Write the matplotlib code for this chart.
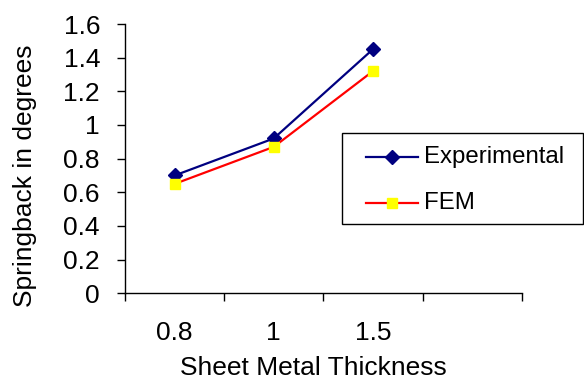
import matplotlib.pyplot as plt
from matplotlib.lines import Line2D
from matplotlib.patches import Rectangle

plt.rcParams["font.family"] = ["Liberation Sans", "DejaVu Sans"]

# Data
thickness = ["0.8", "1", "1.5", ""]
experimental = [0.70, 0.92, 1.45]
fem = [0.65, 0.87, 1.32]
y_ticks = [0, 0.2, 0.4, 0.6, 0.8, 1, 1.2, 1.4, 1.6]
series_names = ["Experimental", "FEM"]

FS = 19
LEG_FS = 17.3
PX = 72 / 100  # points per pixel at dpi=100
W, H = 584, 381

styles = [
    dict(color="#000080", lw=1.6, marker="D", ms=7, mfc="#000080", mec="#000080"),
    dict(color="#FF0000", lw=1.6, marker="s", ms=7, mfc="#FFFF00", mec="#FFFF00"),
]

fig = plt.figure(figsize=(W / 100, H / 100), dpi=100)
ax = fig.add_axes([125 / W, 1 - 293.3 / H, 396.7 / W, 269.3 / H])

x = list(range(len(experimental)))
ax.plot(x, experimental, zorder=3, **styles[0])
ax.plot(x, fem, zorder=3, **styles[1])

ax.set_xlim(-0.5, len(thickness) - 0.5)
ax.set_ylim(0, 1.6)
ax.set_yticks(y_ticks)
ax.set_yticklabels([f"{v:g}" for v in y_ticks])

# category boundaries as tick marks, labels in the middle
ax.set_xticks([i - 0.5 for i in range(len(thickness) + 1)])
ax.set_xticklabels([])
ax.set_xticks(range(len(thickness)), minor=True)
ax.set_xticklabels(thickness, minor=True)
ax.tick_params(axis="x", which="minor", length=0, pad=28 * PX, labelsize=FS)
ax.tick_params(axis="x", which="major", direction="out", length=8 * PX, width=1)
ax.tick_params(axis="y", direction="out", length=8 * PX, width=1,
               labelsize=FS, pad=17 * PX)

for s in ["top", "right"]:
    ax.spines[s].set_visible(False)
for s in ["left", "bottom"]:
    ax.spines[s].set_linewidth(1)

fig.text(313 / W, 1 - 368 / H, "Sheet Metal Thickness", ha="center",
         va="center", fontsize=FS)
fig.text(25 / W, 1 - 176 / H, "Springback in degrees", ha="center",
         va="center", rotation=90, fontsize=FS)

# legend box, drawn by hand to match the Excel layout
fig.patches.append(Rectangle((342 / W, 1 - 224 / H), 241 / W, 91 / H,
                             transform=fig.transFigure, fill=False,
                             edgecolor="black", lw=1))
for i, (name, st) in enumerate(zip(series_names, styles)):
    yy = 1 - (156.5 + 46 * i) / H
    fig.add_artist(Line2D([366 / W, 418 / W], [yy, yy],
                          transform=fig.transFigure, color=st["color"], lw=st["lw"]))
    fig.add_artist(Line2D([392 / W], [yy], transform=fig.transFigure,
                          ls="none", marker=st["marker"], ms=st["ms"],
                          mfc=st["mfc"], mec=st["mec"]))
    fig.text(424 / W, yy, name, ha="left", va="center", fontsize=LEG_FS)

fig.savefig("out.png", dpi=100)
